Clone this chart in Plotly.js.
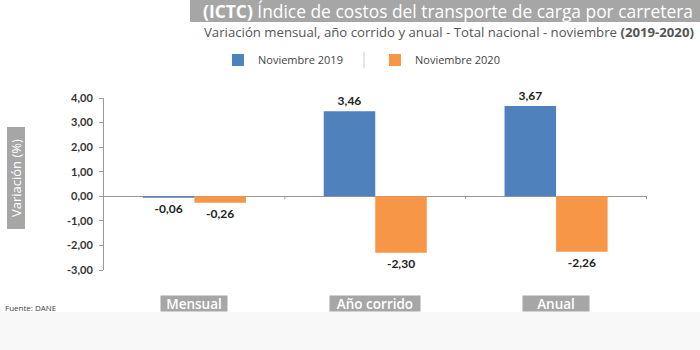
<!DOCTYPE html>
<html><head><meta charset="utf-8">
<script src="https://cdn.plot.ly/plotly-3.0.1.min.js"></script>
<style>html,body{margin:0;padding:0;background:#fff;}#c{width:700px;height:350px;}</style>
</head><body><div id="c"></div>
<script>
var categories = ['Mensual', 'Año corrido', 'Anual'];
var seriesNames = ['Noviembre 2019', 'Noviembre 2020'];
var nov2019 = [-0.06, 3.46, 3.67];
var nov2020 = [-0.26, -2.30, -2.26];
var yTicks = [-3, -2, -1, 0, 1, 2, 3, 4];

function fmt(v){ return v.toFixed(2).replace('.', ','); }

var L = 104, T = 98, W = 543, H = 172;
function px(x){ return (x - L) / W; }
function py(y){ return (T + H - y) / H; }

var labelFont = {family: 'Lato, "Open Sans", sans-serif', size: 12, color: '#222', weight: 'bold'};

var traces = [
  {type:'bar', name: seriesNames[0], x: categories, y: nov2019,
   marker:{color:'#4f81bd'}, text: nov2019.map(fmt), textposition:'outside',
   textfont: labelFont, cliponaxis:false, hoverinfo:'none'},
  {type:'bar', name: seriesNames[1], x: categories, y: nov2020,
   marker:{color:'#f79646'}, text: nov2020.map(fmt), textposition:'outside',
   textfont: labelFont, cliponaxis:false, hoverinfo:'none'}
];

var boxWidths = [66, 90, 66];
var annotations = categories.map(function(c, i){
  return {xref:'x', yref:'paper', x:c, y:py(303.5), text:c, showarrow:false,
    bgcolor:'#a6a6a6', borderpad:0, width:boxWidths[i], height:15, align:'center', valign:'middle',
    font:{family:'"Open Sans", sans-serif', size:13.5, color:'#fff', weight:600},
    xanchor:'center', yanchor:'middle'};
});
annotations.push({xref:'paper', yref:'paper', x:px(15.5), y:py(178), text:'Variación (%)', textangle:-90,
  showarrow:false, bgcolor:'#a6a6a6', borderpad:0, width:101, height:17, align:'center', valign:'middle',
  font:{family:'"Open Sans", sans-serif', size:13, color:'#fff'},
  xanchor:'center', yanchor:'middle'});
annotations.push({xref:'paper', yref:'paper', x:px(695), y:py(11), text:'<b>(ICTC)</b> Índice de costos del transporte de carga por carretera',
  showarrow:false, font:{family:'"Open Sans", sans-serif', size:17.4, color:'#fff'}, xanchor:'right', yanchor:'middle'});
annotations.push({xref:'paper', yref:'paper', x:px(696), y:py(32), text:'Variación mensual, año corrido y anual - Total nacional - noviembre <b>(2019-2020)</b>',
  showarrow:false, font:{family:'"Open Sans", sans-serif', size:13.2, color:'#555'}, xanchor:'right', yanchor:'middle'});
annotations.push({xref:'paper', yref:'paper', x:px(3), y:py(307), text:'Fuente: DANE',
  showarrow:false, font:{family:'"Open Sans", sans-serif', size:8, color:'#444'}, xanchor:'left', yanchor:'middle'});

var shapes = [
  {type:'rect', xref:'paper', yref:'paper', x0:px(0), x1:px(700), y0:py(312), y1:py(350), fillcolor:'#f8f8f8', line:{width:0}, layer:'below'},
  {type:'rect', xref:'paper', yref:'paper', x0:px(190), x1:px(700), y0:py(0), y1:py(22), fillcolor:'#a6a6a6', line:{width:0}, layer:'below'},
  {type:'line', xref:'paper', yref:'paper', x0:px(364), x1:px(364), y0:py(52), y1:py(68), line:{color:'#d0d0d0', width:1}}
];
[0.5, 1.5, 2.5].forEach(function(b){
  shapes.push({type:'line', xref:'x', yref:'y', x0:b, x1:b, y0:0, y1:-0.12, line:{color:'#999', width:1}});
});

var layout = {
  width:700, height:350,
  margin:{l:L, r:700-L-W, t:T, b:350-T-H, pad:0},
  paper_bgcolor:'#fff', plot_bgcolor:'rgba(0,0,0,0)',
  barmode:'group', bargap:0.43, bargroupgap:0,
  separators:',.',
  showlegend:true,
  legend:{orientation:'h', x:px(218), y:py(60), xanchor:'left', yanchor:'middle',
    font:{family:'"Open Sans", sans-serif', size:11, color:'#444'}, entrywidth:112, itemwidth:30,
    bgcolor:'rgba(0,0,0,0)'},
  xaxis:{showticklabels:false, showline:false, ticks:'', showgrid:false, zeroline:false, fixedrange:true},
  yaxis:{range:[-3,4], tickvals:yTicks, ticktext:yTicks.map(fmt), showgrid:false,
    zeroline:true, zerolinecolor:'#999', zerolinewidth:1,
    showline:true, linecolor:'#999', linewidth:1, ticks:'outside', ticklen:4, tickcolor:'#999',
    tickfont:{family:'Lato, sans-serif', size:11, color:'#333', weight:'bold'}, ticklabelstandoff:4},
  annotations:annotations, shapes:shapes
};
Plotly.newPlot('c', traces, layout, {displayModeBar:false, staticPlot:true});
</script></body></html>
